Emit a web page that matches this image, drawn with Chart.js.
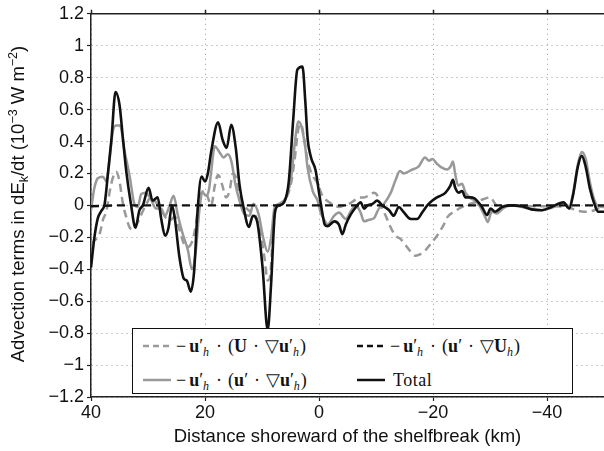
<!DOCTYPE html>
<html><head><meta charset="utf-8">
<script src="https://cdn.jsdelivr.net/npm/chart.js@4.4.1/dist/chart.umd.min.js"></script>
<style>
html,body{margin:0;padding:0;background:#fff;}
#wrap{position:relative;width:604px;height:451px;overflow:hidden;}
#legend{position:absolute;left:132px;top:328px;width:439px;height:64px;border:1.5px solid #111;background:#fff;font-family:"Liberation Serif","DejaVu Serif",serif;font-size:18px;color:#111;}
.item{position:absolute;display:flex;align-items:center;white-space:nowrap;height:20px;}
.item svg{margin-right:5px;flex:none;}
.s{position:relative;top:4px;font-size:12px;font-style:italic;margin-right:1px;}
.o{margin:0 6px;}
.m{margin-right:3px;}
b{font-weight:bold;}
</style></head>
<body>
<div id="wrap">
<canvas id="c" width="604" height="451"></canvas>
<div id="legend">
  <div class="item" style="left:10px;top:7px;"><svg width="28" height="6"><line x1="0" y1="3" x2="28" y2="3" stroke="#9a9a9a" stroke-width="2.5" stroke-dasharray="6,4"/></svg><span><span class="m">−</span><b>u</b>′<span class="s">h</span><span class="o">·</span>(<b>U</b><span class="o">·</span>▽<b>u</b>′<span class="s">h</span>)</span></div>
  <div class="item" style="left:224px;top:7px;"><svg width="28" height="6"><line x1="0" y1="3" x2="28" y2="3" stroke="#111" stroke-width="2.5" stroke-dasharray="6,4"/></svg><span><span class="m">−</span><b>u</b>′<span class="s">h</span><span class="o">·</span>(<b>u</b>′<span class="o">·</span>▽<b>U</b><span class="s">h</span>)</span></div>
  <div class="item" style="left:10px;top:41px;"><svg width="28" height="6"><line x1="0" y1="3" x2="28" y2="3" stroke="#9a9a9a" stroke-width="2.5"/></svg><span><span class="m">−</span><b>u</b>′<span class="s">h</span><span class="o">·</span>(<b>u</b>′<span class="o">·</span>▽<b>u</b>′<span class="s">h</span>)</span></div>
  <div class="item" style="left:224px;top:41px;"><svg width="28" height="6"><line x1="0" y1="3" x2="28" y2="3" stroke="#111" stroke-width="2.5"/></svg><span style="margin-left:3px;letter-spacing:0.5px">Total</span></div>
</div>
</div>
<script>
// x tick labels (km)
const xTicks = [40, 20, 0, -20, -40];

// Total
const totalKm = [40,39.4,38.8,38.2,37.6,37.0,36.4,35.7,35.0,34.4,33.8,33.0,32.2,31.5,30.9,29.9,29.2,28.3,27.7,27.0,26.4,25.8,25.3,24.5,23.7,23.2,22.5,21.9,21.3,20.6,20.0,19.5,18.9,17.7,16.9,16.2,15.4,14.6,13.95,13.25,12.3,11.6,10.8,9.9,9.0,8.4,7.7,7.0,6.1,5.3,4.5,3.8,2.9,2.4,2.0,1.4,0.6,0.0,-0.6,-1.0,-1.5,-2.7,-3.5,-4.1,-4.7,-5.6,-6.5,-7.3,-7.9,-8.5,-9.4,-10.2,-11.1,-12.3,-13.1,-14.0,-14.8,-16.1,-17.2,-18.1,-19.0,-19.9,-20.7,-21.3,-22.2,-23.0,-23.5,-23.9,-24.5,-25.1,-25.7,-26.6,-27.2,-27.7,-28.6,-29.5,-30.1,-30.9,-32.1,-33.8,-35.6,-37.3,-39.1,-40.8,-42.9,-43.9,-44.6,-45.4,-46.1,-46.8,-47.5,-48.4,-49.0,-50];
const totalVal = [-0.39,-0.20,-0.08,-0.035,0.01,0.21,0.42,0.71,0.63,0.42,0.21,0.01,-0.14,-0.03,0.0,0.11,0.03,0.05,-0.08,-0.19,-0.14,0.0,-0.08,-0.32,-0.46,-0.47,-0.54,-0.41,-0.03,0.18,0.15,0.20,0.34,0.52,0.41,0.36,0.505,0.36,0.13,-0.01,-0.135,-0.065,-0.11,-0.39,-0.78,-0.49,-0.035,0.0,0.02,0.15,0.55,0.85,0.87,0.65,0.42,0.30,0.22,0.08,-0.05,-0.12,-0.13,-0.10,-0.12,-0.18,-0.12,-0.055,-0.01,0.02,-0.02,0.0,0.01,0.03,0.0,-0.03,-0.065,-0.01,-0.04,-0.085,-0.085,-0.045,0.0,0.03,0.05,0.06,0.08,0.12,0.16,0.11,0.08,0.09,0.05,0.05,0.045,0.03,-0.01,-0.06,-0.02,-0.04,-0.01,0.0,-0.005,-0.025,-0.03,-0.01,0.02,-0.02,0.07,0.24,0.31,0.24,0.11,0.0,-0.04,-0.04];

// -u'h . (u' . grad u'h)  (grey solid)
const uuKm = [40,39.4,38.8,37.9,37.3,36.7,36.2,35.6,34.9,34.1,33.2,32.4,31.8,31.2,30.4,29.5,28.6,27.7,27.0,26.3,25.5,24.8,23.9,23.0,22.3,21.6,21.0,20.4,19.8,19.3,18.9,18.3,17.4,16.75,16.0,15.4,14.65,13.95,13.1,12.2,11.5,10.6,9.8,9.0,8.4,7.8,7.0,5.8,4.9,4.15,3.6,3.05,2.4,2.0,1.1,0.25,-0.3,-0.9,-1.5,-2.65,-3.5,-4.7,-5.6,-6.5,-7.3,-7.9,-8.8,-9.65,-10.5,-11.4,-12.6,-13.45,-14.2,-14.9,-16.1,-17.5,-18.6,-19.3,-19.9,-20.7,-21.4,-22.5,-23.1,-23.5,-23.9,-24.4,-25.1,-25.7,-26.6,-27.4,-28.3,-29.2,-29.6,-30.3,-31.2,-32.4,-33.8,-35.6,-37.3,-39.1,-40.8,-42.9,-43.9,-44.6,-45.4,-46.1,-46.8,-47.5,-48.3,-49.0,-50];
const uuVal = [-0.03,0.11,0.17,0.18,0.15,0.30,0.46,0.50,0.50,0.34,0.18,0.01,-0.01,0.07,0.08,0.04,-0.02,-0.02,-0.065,-0.01,0.06,-0.055,-0.18,-0.28,-0.40,-0.28,-0.035,0.08,0.06,0.10,0.215,0.37,0.33,0.30,0.32,0.28,0.13,0.03,-0.055,-0.065,0.01,-0.055,-0.20,-0.29,-0.20,-0.015,0.01,0.05,0.17,0.42,0.525,0.49,0.36,0.235,0.09,0.03,-0.045,-0.09,-0.12,-0.065,-0.045,-0.085,-0.035,0.0,-0.045,-0.10,-0.09,-0.08,-0.02,0.01,0.08,0.16,0.215,0.20,0.22,0.245,0.30,0.28,0.29,0.26,0.24,0.225,0.245,0.275,0.195,0.125,0.135,0.08,0.045,0.03,-0.01,-0.075,-0.105,-0.04,-0.05,-0.015,0.0,-0.01,-0.025,-0.03,-0.015,0.015,-0.005,0.08,0.255,0.335,0.29,0.15,0.035,-0.005,-0.01];

// -u'h . (U . grad u'h)  (grey dashed)
const uUKm = [40,39.4,38.5,37.9,37.3,36.7,36.2,35.6,35.0,34.4,33.8,33.2,32.6,31.8,31.1,30.4,29.5,28.6,27.7,26.8,26.0,25.3,24.5,23.7,23.0,22.2,21.6,21.1,20.6,20.0,19.5,18.9,18.3,17.7,17.0,16.3,15.7,15.1,14.5,14.0,13.1,12.2,11.3,10.45,9.6,9.0,8.6,8.1,7.55,6.7,5.7,4.95,4.3,3.6,3.2,2.6,2.0,1.1,0.25,-0.6,-1.8,-2.65,-3.5,-4.4,-5.3,-6.15,-7.0,-7.9,-8.8,-9.65,-10.2,-10.8,-11.7,-12.6,-13.45,-14.3,-15.2,-16.1,-16.9,-17.8,-18.7,-19.6,-20.7,-21.9,-22.5,-23.9,-25.7,-27.4,-28.9,-30.05,-30.9,-31.5,-33.0,-36.0,-40.0,-43.5,-45.0,-46.5,-48.3,-50];
const uUVal = [-0.24,-0.22,-0.18,-0.09,-0.035,0.09,0.17,0.21,0.15,0.01,-0.075,-0.14,-0.15,-0.105,-0.05,0.0,0.05,0.02,-0.03,-0.08,-0.09,-0.07,-0.15,-0.24,-0.26,-0.22,-0.12,0.01,0.08,0.09,0.05,0.0,0.12,0.19,0.13,0.05,0.09,0.20,0.17,0.07,0.0,-0.035,-0.055,-0.14,-0.32,-0.47,-0.45,-0.20,-0.015,0.01,0.05,0.13,0.28,0.485,0.51,0.42,0.28,0.185,0.14,0.06,0.02,0.0,-0.01,0.0,0.01,0.03,0.05,0.05,0.065,0.08,0.065,0.005,-0.065,-0.14,-0.19,-0.21,-0.25,-0.29,-0.315,-0.305,-0.28,-0.24,-0.19,-0.12,-0.075,-0.035,0.0,0.02,0.04,0.05,0.01,-0.01,0.0,-0.005,-0.005,-0.01,-0.03,-0.04,-0.03,0.0];

// -u'h . (u' . grad Uh)  (black dashed)
const uUhKm = [40,35,30,25,20,15,10,5,0,-5,-10,-15,-20,-25,-30,-35,-40,-45,-50];
const uUhVal = [-0.005,0,0,0,0,0,0,0,0,0,0,0,0,0,0,0,0,0,0];

const pts = (xs, ys) => xs.map((x, i) => ({x: x, y: ys[i]}));
const fmt = v => String(v).replace('-', '\u2212');
const FONT = '"Liberation Sans", Arial, sans-serif';

const frame = {
  id: 'frame',
  afterDraw(chart) {
    const {ctx, chartArea: a, scales: {x}} = chart;
    ctx.save();
    ctx.strokeStyle = '#222';
    ctx.lineWidth = 1.5;
    ctx.beginPath();
    ctx.moveTo(a.left, a.top); ctx.lineTo(604, a.top);
    xTicks.forEach(t => { const px = Math.round(x.getPixelForValue(t)) + 0.5; ctx.moveTo(px, a.top); ctx.lineTo(px, a.top - 4); });
    ctx.stroke();
    // y title with sub/superscripts
    const segs = [['Advection terms in dE',0],['k',-1],['/dt (10',0],['\u22123',1],[' W m',0],['\u22122',1],[')',0]];
    const big = '18.5px ' + FONT, small = '12.5px ' + FONT;
    let w = 0;
    segs.forEach(s => { ctx.font = s[1] ? small : big; w += ctx.measureText(s[0]).width; });
    ctx.translate(24, 204);
    ctx.rotate(-Math.PI / 2);
    ctx.fillStyle = '#111';
    ctx.textBaseline = 'alphabetic';
    let cx = -w / 2;
    segs.forEach(s => {
      ctx.font = s[1] ? small : big;
      const dy = s[1] === -1 ? 4 : (s[1] === 1 ? -7 : 0);
      ctx.fillText(s[0], cx, dy);
      cx += ctx.measureText(s[0]).width;
    });
    ctx.restore();
  }
};

const lineDs = (label, data, color, width, dash, order) => ({
  label, data, borderColor: color, borderWidth: width, borderDash: dash,
  pointRadius: 0, fill: false, cubicInterpolationMode: 'monotone', order
});

new Chart(document.getElementById('c'), {
  type: 'line',
  data: {
    datasets: [
      lineDs('total', pts(totalKm, totalVal), '#111', 2.6, [], 0),
      lineDs('uUh', pts(uUhKm, uUhVal), '#111', 2.4, [8, 5], 1),
      lineDs('uu', pts(uuKm, uuVal), '#999', 2.5, [], 2),
      lineDs('uU', pts(uUKm, uUVal), '#999', 2.5, [8, 5], 3)
    ]
  },
  options: {
    responsive: false,
    animation: false,
    layout: {padding: {left: 0, right: 0, top: 12, bottom: 0}},
    plugins: {legend: {display: false}, tooltip: {enabled: false}},
    scales: {
      x: {
        type: 'linear', reverse: true, min: -50, max: 40,
        afterBuildTicks: s => { s.ticks = xTicks.map(v => ({value: v})); },
        afterFit: s => { s.height = 54; },
        ticks: {callback: v => fmt(v), font: {family: FONT, size: 18}, color: '#111', padding: 1, maxRotation: 0},
        grid: {color: '#999', lineWidth: 1, tickLength: 4, tickColor: '#222', tickBorderDash: [], tickWidth: 1.2},
        border: {display: true, color: '#222', width: 1.5, dash: [1, 4]},
        title: {display: true, text: 'Distance shoreward of the shelfbreak (km)', font: {family: FONT, size: 18.5}, color: '#111', padding: {top: 0, bottom: 3}}
      },
      y: {
        min: -1.2, max: 1.2,
        afterFit: s => { s.width = 91; },
        ticks: {stepSize: 0.2, callback: v => fmt(Math.round(v * 10) / 10), font: {family: FONT, size: 18}, color: '#111', padding: 3},
        grid: {color: '#999', lineWidth: 1, tickLength: 4, tickColor: '#222', tickBorderDash: [], tickWidth: 1.2},
        border: {display: true, color: '#222', width: 1.5, dash: [1, 4]}
      }
    }
  },
  plugins: [frame]
});
</script>
</body></html>
